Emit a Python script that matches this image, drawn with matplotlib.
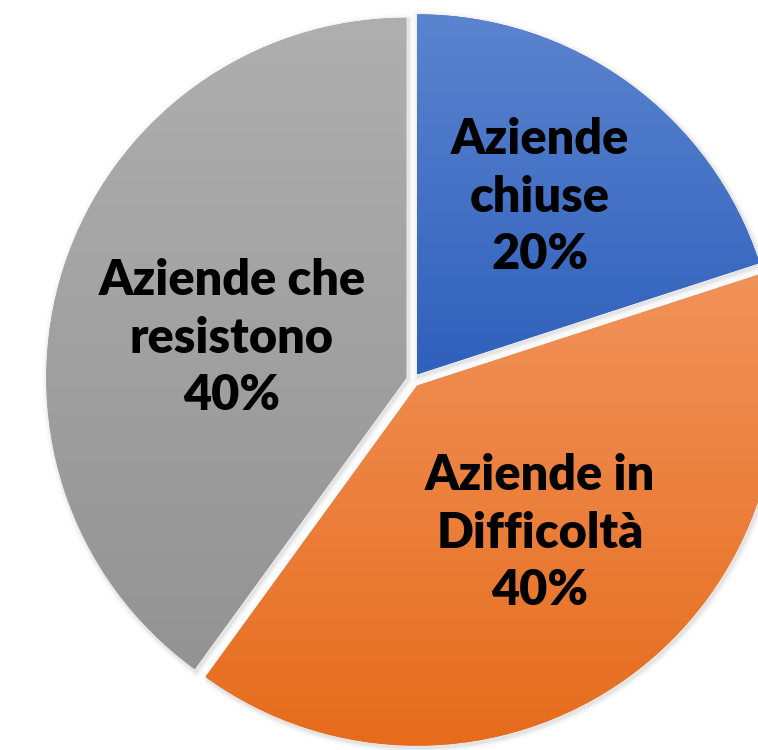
import numpy as np
import matplotlib
matplotlib.use("Agg")
import matplotlib.pyplot as plt
from matplotlib.colors import LinearSegmentedColormap
from matplotlib.patches import Wedge

labels = ["Aziende\nchiuse", "Aziende in\nDifficoltà", "Aziende che\nresistono"]
values = [20, 40, 40]
pct_labels = ["20%", "40%", "40%"]
top_colors = ["#5B84CF", "#F1925A", "#AFAFAF"]
bottom_colors = ["#2F60BC", "#E66C1C", "#939393"]

W, H = 758, 750
cx, cy = 413, 380  # pie center in pixels (from top-left)
R = 360

fig = plt.figure(figsize=(W / 100, H / 100), dpi=100)
ax = fig.add_axes([0, 0, 1, 1])

wedges, _ = ax.pie(values, startangle=90, counterclock=False, radius=R,
                   explode=[7] * 3, center=(0, 0), frame=True,
                   wedgeprops=dict(linewidth=0))

for w, tc, bc in zip(wedges, top_colors, bottom_colors):
    # soft shadow
    for lw, a in [(8, 0.02), (5, 0.035), (2.5, 0.05)]:
        sh = Wedge((w.center[0] + 1.5, w.center[1] - 2), w.r, w.theta1, w.theta2,
                   facecolor="none", edgecolor=(0, 0, 0, a), linewidth=lw,
                   zorder=0.5)
        ax.add_patch(sh)
    w.set_facecolor(bc)
    w.set_zorder(1)
    bb = w.get_path().get_extents(w.get_patch_transform())
    cmap = LinearSegmentedColormap.from_list("g", [tc, bc])
    grad = np.linspace(0, 1, 256).reshape(-1, 1)
    im = ax.imshow(grad, cmap=cmap, aspect="auto",
                   extent=[bb.x0, bb.x1, bb.y0, bb.y1], origin="upper",
                   zorder=1.5, interpolation="bilinear")
    im.set_clip_path(w)

ax.set_xlim(-cx, W - cx)
ax.set_ylim(-(H - cy), cy)
ax.set_aspect("equal")
ax.axis("off")

label_pos = [(540 - cx, cy - 197), (540 - cx, cy - 533), (232 - cx, cy - 338)]
for (x, y), lab, p in zip(label_pos, labels, pct_labels):
    ax.text(x, y, lab + "\n" + p, ha="center", va="center", fontsize=35,
            fontweight="heavy", family=["Lato", "DejaVu Sans"],
            linespacing=1.33, color="black", zorder=3)

fig.savefig("out.png", dpi=100)
